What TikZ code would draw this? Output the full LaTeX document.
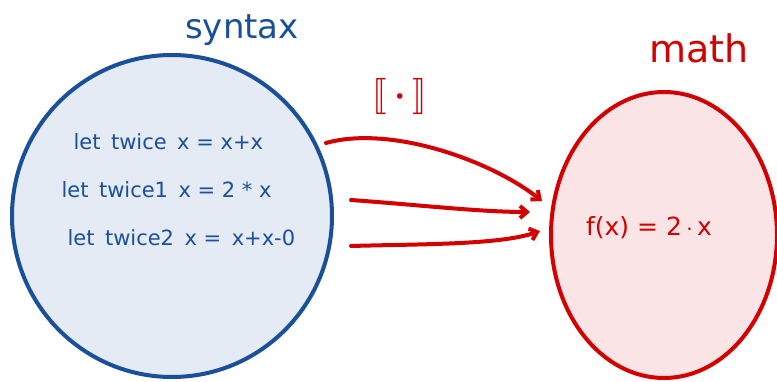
\documentclass[tikz,border=0pt]{standalone}
\usepackage{fontspec}
\setmainfont{DejaVu Sans}
\usepackage{stmaryrd}
\usetikzlibrary{arrows.meta}
\definecolor{synblue}{HTML}{1A4F9A}
\definecolor{synfill}{HTML}{E4EBF4}
\definecolor{mathred}{HTML}{D40000}
\definecolor{mathfill}{HTML}{FBE4E6}
\tikzset{
  setbox/.style={line width=4pt},
  codetext/.style={text=synblue, font=\fontsize{21}{24}\selectfont, anchor=west},
  maparrow/.style={draw=mathred, line width=4pt, line cap=round, -{Straight Barb[length=7pt,width=12pt,line width=4pt]}},
  title/.style={font=\fontsize{34}{38}\selectfont}
}
\begin{document}
\begin{tikzpicture}[x=1pt,y=-1pt]
\useasboundingbox (0,0) rectangle (777,382);
% sets
\draw[setbox, draw=synblue, fill=synfill] (172,216) ellipse [x radius=160, y radius=161];
\draw[setbox, draw=mathred, fill=mathfill] (664,235) ellipse [x radius=113, y radius=143];
% titles
\node[title, text=synblue] (syn) at (242,30) {syntax};
\node[title, text=mathred, font=\fontsize{38}{42}\selectfont] (math) at (699,48) {math};
\node[text=mathred, scale=3.6, inner sep=0pt, font=\boldmath] (sem) at (400,97) {$\llbracket\,\cdot\,\rrbracket$};
% code lines
\node[codetext] (l1) at (70,142) {let\enspace twice\enspace x = x+x};
\node[codetext] (l2) at (58,190) {let\enspace twice1\enspace x = 2 * x};
\node[codetext] (l3) at (64,238) {let\enspace twice2\enspace x =\enspace x+x-0};
% math
\node[text=mathred, font=\fontsize{25}{28}\selectfont] (f) at (649,228) {f(x) = 2$\,\cdot\,$x};
% arrow endpoints
\coordinate (s1) at (326,143);
\coordinate (e1) at (542,201);
\coordinate (s2) at (351,200);
\coordinate (e2) at (530,212);
\coordinate (s3) at (351,246);
\coordinate (e3) at (540,231);
\draw[maparrow] (s1) .. controls (390,125) and (490,160) .. (e1);
\draw[maparrow] (s2) .. controls (420,205) and (480,212) .. (e2);
\draw[maparrow] (s3) .. controls (420,244) and (500,245) .. (e3);
\end{tikzpicture}
\end{document}
